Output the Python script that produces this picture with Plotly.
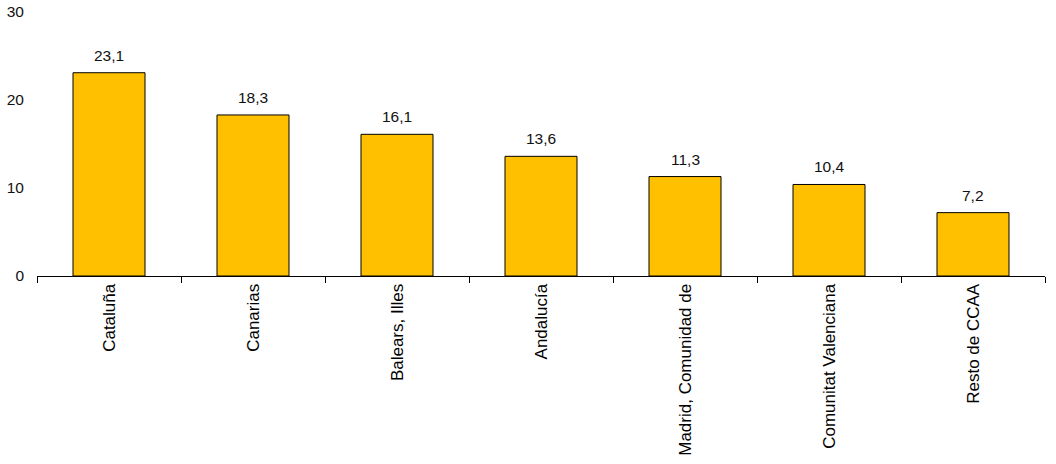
import plotly.graph_objects as go

categories = ["Cataluña", "Canarias", "Balears, Illes", "Andalucía",
              "Madrid, Comunidad de", "Comunitat Valenciana", "Resto de CCAA"]
values = [23.1, 18.3, 16.1, 13.6, 11.3, 10.4, 7.2]
y_ticks = [0, 10, 20, 30]

fig = go.Figure()
fig.add_trace(go.Bar(
    x=categories, y=values,
    marker=dict(color="#FFC000", line=dict(color="#000000", width=1)),
    width=0.5,
    cliponaxis=False,
))

for c, v in zip(categories, values):
    fig.add_annotation(
        x=c, y=v, text=f"{v:.1f}".replace(".", ","),
        showarrow=False, yanchor="bottom", yshift=7,
        font=dict(family="Liberation Sans, Arial", size=15.5, color="#111111"),
    )

fig.update_layout(
    width=1056, height=464,
    margin=dict(l=37, r=11, t=12, b=188, autoexpand=False),
    paper_bgcolor="white", plot_bgcolor="white",
    showlegend=False,
    separators=",.",
    font=dict(family="Liberation Sans, Arial", size=15.5, color="#111111"),
)
fig.update_xaxes(
    type="category", automargin=False,
    showline=True, linecolor="#000000", linewidth=1,
    ticks="outside", tickson="boundaries", ticklen=6, tickcolor="#000000",
    tickangle=-90,
    tickfont=dict(size=17, color="#000000"),
    showgrid=False,
)
fig.update_yaxes(
    range=[0, 30], tickvals=y_ticks, automargin=False,
    showline=False, showgrid=False, zeroline=False,
    ticks="", ticklabelstandoff=12,
    tickfont=dict(size=15.5, color="#111111"),
)

fig.write_html(
    "out.html",
    config={"displayModeBar": False},
    post_script="document.body.style.margin='0';document.body.style.overflow='hidden';",
)
